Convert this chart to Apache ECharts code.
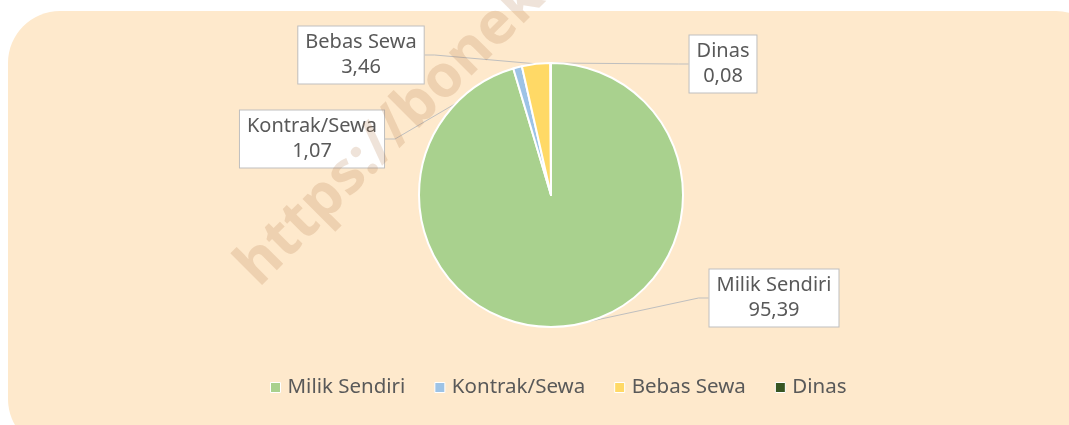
<!DOCTYPE html>
<html>
<head>
<meta charset="utf-8">
<script src="https://cdn.jsdelivr.net/npm/echarts@6/dist/echarts.min.js"></script>
<style>
  html, body { margin: 0; padding: 0; background: #fff; }
  #chart { width: 1069px; height: 425px; }
</style>
</head>
<body>
<div id="chart"></div>
<script>
  // data
  var categories = ['Milik Sendiri', 'Kontrak/Sewa', 'Bebas Sewa', 'Dinas']
  var values = [95.39, 1.07, 3.46, 0.08]
  var colors = ['#A9D18E', '#9DC3E6', '#FFD966', '#375623']
  // where each label box sits (box centre)
  var labelPos = [[774, 298], [312, 139], [361, 55], [723, 64]]

  var font = '"Noto Sans", sans-serif'
  var textColor = '#595959'

  var chart = echarts.init(document.getElementById('chart'))

  chart.setOption({
    animation: false,
    textStyle: { fontFamily: font },
    graphic: [
      // background card
      {
        type: 'rect',
        z: -10,
        shape: { x: 8, y: 11, width: 1100, height: 440, r: 52 },
        style: { fill: '#FEE9CC' }
      },
      // watermark
      {
        type: 'text',
        z: 100,
        x: 268,
        y: 297,
        rotation: 45 * Math.PI / 180,
        style: {
          text: 'https://bonekab.bps.go.id',
          font: 'bold 59px "Noto Sans", sans-serif',
          fill: 'rgba(175, 115, 65, 0.2)',
          textAlign: 'left',
          textVerticalAlign: 'bottom'
        }
      }
    ],
    legend: {
      bottom: 22,
      left: 265,
      itemWidth: 10,
      itemHeight: 10,
      itemGap: 29,
      icon: 'rect',
      itemStyle: { borderColor: '#fff', borderWidth: 1 },
      textStyle: { color: textColor, fontSize: 20.5, fontFamily: font, padding: [0, 0, 0, 2] },
      data: categories
    },
    series: [{
      type: 'pie',
      center: [551, 195],
      radius: 132,
      startAngle: 90,
      clockwise: true,
      avoidLabelOverlap: false,
      itemStyle: { borderColor: '#fff', borderWidth: 2 },
      label: {
        show: true,
        formatter: function (p) {
          return p.name + '\n' + p.value.toFixed(2).replace('.', ',')
        },
        color: textColor,
        fontSize: 20,
        fontFamily: font,
        lineHeight: 25,
        align: 'center',
        backgroundColor: '#fff',
        borderColor: '#BFBFBF',
        borderWidth: 1,
        padding: [4, 7, 3, 7]
      },
      labelLine: {
        show: true,
        length: 10,
        length2: 10,
        lineStyle: { color: '#BFBFBF', width: 1 }
      },
      labelLayout: function (p) {
        var pos = labelPos[p.dataIndex]
        return { x: pos[0], y: pos[1], align: 'center', verticalAlign: 'middle' }
      },
      emphasis: { disabled: true },
      data: categories.map(function (name, i) {
        return {
          name: name,
          value: values[i],
          itemStyle: { color: colors[i] }
        }
      })
    }]
  })
</script>
</body>
</html>
